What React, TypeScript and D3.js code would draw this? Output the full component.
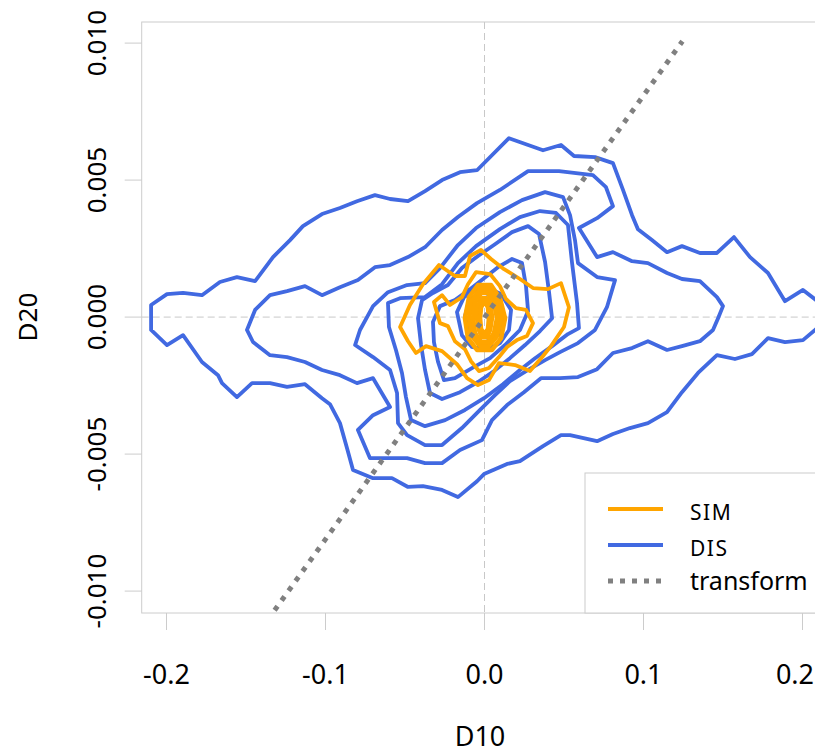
import { useEffect, useRef } from 'react';
import * as d3 from 'd3';

type Pt = [number, number];

const xTicks = [-0.2, -0.1, 0.0, 0.1, 0.2];
const xTickLabels = ['-0.2', '-0.1', '0.0', '0.1', '0.2'];
const yTicks = [-0.01, -0.005, 0.0, 0.005, 0.01];
const yTickLabels = ['-0.010', '-0.005', '0.000', '0.005', '0.010'];

// DIS contours, outermost first
const dis1: Pt[] = [
  [-0.2097, 0.00044], [-0.1997, 0.00084], [-0.1896, 0.00088], [-0.1777, 0.0008], [-0.1664, 0.00128],
  [-0.1557, 0.00146], [-0.1443, 0.00131], [-0.133, 0.00219], [-0.1223, 0.00281], [-0.1142, 0.00332],
  [-0.1022, 0.00376], [-0.0909, 0.00398], [-0.0802, 0.00423], [-0.0689, 0.00445], [-0.0594, 0.00431],
  [-0.0481, 0.00423], [-0.0374, 0.0046], [-0.0267, 0.005], [-0.0154, 0.00529], [-0.0047, 0.00536],
  [0.0154, 0.00653], [0.0368, 0.00609], [0.0481, 0.00628], [0.0563, 0.00588], [0.0695, 0.00584],
  [0.0808, 0.00562], [0.0871, 0.00464], [0.0928, 0.00372], [0.0965, 0.00321], [0.1053, 0.00281],
  [0.1148, 0.00237], [0.1242, 0.00259], [0.1355, 0.00234], [0.1462, 0.00234], [0.1569, 0.00292],
  [0.167, 0.00219], [0.1783, 0.00161], [0.189, 0.00058], [0.2003, 0.00099], [0.211, 0.00051],
  [0.216, -0.00004], [0.2079, -0.00047], [0.2003, -0.00084], [0.189, -0.00091], [0.1783, -0.00077],
  [0.1682, -0.00135], [0.1575, -0.00153], [0.1462, -0.00139], [0.1343, -0.00204], [0.1242, -0.00274],
  [0.1148, -0.00347], [0.1028, -0.00387], [0.0915, -0.00405], [0.0808, -0.00427], [0.0708, -0.00453],
  [0.0538, -0.00431], [0.0481, -0.00431], [0.0368, -0.00471], [0.0223, -0.00526], [0.0142, -0.00536],
  [-0.0003, -0.00573], [-0.0047, -0.00599], [-0.0167, -0.00657], [-0.0267, -0.00631], [-0.0387, -0.00617],
  [-0.0481, -0.0062], [-0.0582, -0.00588], [-0.0701, -0.00588], [-0.0827, -0.00558], [-0.0865, -0.00478],
  [-0.0909, -0.00387], [-0.0972, -0.00318], [-0.1022, -0.00296], [-0.1129, -0.00245], [-0.1242, -0.00255],
  [-0.1349, -0.00241], [-0.1462, -0.00241], [-0.1557, -0.00292], [-0.1651, -0.00241], [-0.1676, -0.00212],
  [-0.1777, -0.00164], [-0.1896, -0.00066], [-0.1997, -0.00102], [-0.2097, -0.00047],
];
const dis2: Pt[] = [
  [-0.1494, -0.00047], [-0.1443, 0.00026], [-0.1349, 0.0008], [-0.1242, 0.00095], [-0.1129, 0.00113],
  [-0.1022, 0.0008], [-0.0909, 0.00109], [-0.0796, 0.00135], [-0.0689, 0.00182], [-0.0594, 0.0019],
  [-0.0481, 0.00219], [-0.0374, 0.00255], [-0.0267, 0.00318], [-0.0167, 0.00365], [-0.0047, 0.00416],
  [0.0097, 0.00464], [0.0274, 0.00533], [0.0469, 0.00533], [0.0682, 0.00518], [0.0764, 0.00474],
  [0.0808, 0.00405], [0.0708, 0.00361], [0.0594, 0.00325], [0.0708, 0.00219], [0.0808, 0.00237],
  [0.0928, 0.00204], [0.1028, 0.00197], [0.1148, 0.00161], [0.1242, 0.00139], [0.1355, 0.00131],
  [0.1462, 0.00073], [0.15, 0.0004], [0.1469, -0.00004], [0.1437, -0.00047], [0.1355, -0.00088],
  [0.1242, -0.00106], [0.1148, -0.0012], [0.1028, -0.00088], [0.0928, -0.00113], [0.0808, -0.00131],
  [0.0708, -0.0019], [0.0588, -0.00219], [0.0475, -0.00223], [0.0355, -0.00223], [0.0248, -0.00274],
  [0.0142, -0.00321], [0.0047, -0.00376], [-0.0016, -0.00449], [-0.0154, -0.00485], [-0.0267, -0.00533],
  [-0.0374, -0.00533], [-0.0487, -0.00515], [-0.072, -0.00515], [-0.0796, -0.00412], [-0.0701, -0.00358],
  [-0.0594, -0.00328], [-0.0701, -0.00223], [-0.0802, -0.00241], [-0.0909, -0.00212], [-0.1022, -0.00193],
  [-0.1129, -0.00164], [-0.1242, -0.00146], [-0.1349, -0.00139], [-0.1456, -0.00091],
];
const dis3: Pt[] = [
  [-0.0814, -0.00102], [-0.0783, -0.00047], [-0.0701, 0.0004], [-0.0607, 0.00091], [-0.0487, 0.00117],
  [-0.0374, 0.00124], [-0.028, 0.00179], [-0.0167, 0.00263], [-0.0053, 0.00325], [0.0097, 0.00383],
  [0.0236, 0.00427], [0.0381, 0.00456], [0.0494, 0.00438], [0.0538, 0.00372], [0.0569, 0.00281],
  [0.0588, 0.00197], [0.0708, 0.00146], [0.0821, 0.00135], [0.077, 0.00036], [0.0695, -0.00047],
  [0.0588, -0.00095], [0.0475, -0.00128], [0.0381, -0.00157], [0.0274, -0.00193], [0.016, -0.00234],
  [0.0066, -0.00285], [-0.0028, -0.00339], [-0.0142, -0.00405], [-0.0267, -0.00467], [-0.0374, -0.00467],
  [-0.0487, -0.00431], [-0.0544, -0.00387], [-0.055, -0.00277], [-0.0594, -0.00193], [-0.0701, -0.00146],
];
const dis4: Pt[] = [
  [-0.0607, 0.00051], [-0.0531, 0.00069], [-0.0374, 0.00073], [-0.0267, 0.0012], [-0.0167, 0.00197],
  [-0.0053, 0.00259], [0.0097, 0.00321], [0.0223, 0.00365], [0.0349, 0.00387], [0.045, 0.0038],
  [0.0525, 0.00336], [0.055, 0.00201], [0.0582, 0.00051], [0.0594, -0.0004], [0.0525, -0.00062],
  [0.0425, -0.00106], [0.0318, -0.0015], [0.0223, -0.00193], [0.0116, -0.00245], [-0.0003, -0.00296],
  [-0.0123, -0.00339], [-0.0248, -0.00376], [-0.0374, -0.00398], [-0.0462, -0.00376], [-0.0494, -0.00292],
  [-0.0519, -0.00204], [-0.0557, -0.0012], [-0.0601, -0.00036],
];
const dis5: Pt[] = [
  [-0.0418, -0.00004], [-0.0393, 0.00062], [-0.0324, 0.00088], [-0.023, 0.00117], [-0.0142, 0.00179],
  [-0.0041, 0.00223], [0.0066, 0.00266], [0.0173, 0.0031], [0.0274, 0.00332], [0.0343, 0.00303],
  [0.0381, 0.00201], [0.0406, 0.00091], [0.0425, -0.00004], [0.0349, -0.00051], [0.0255, -0.00102],
  [0.016, -0.0015], [0.006, -0.00197], [-0.0041, -0.00237], [-0.0154, -0.00274], [-0.0267, -0.00299],
  [-0.0343, -0.00277], [-0.0374, -0.00193], [-0.0399, -0.00102],
];
const dis6: Pt[] = [
  [-0.0324, -0.00018], [-0.028, 0.0004], [-0.0186, 0.00062], [-0.0091, 0.00102], [-0.0003, 0.00142],
  [0.0085, 0.00182], [0.0173, 0.00212], [0.0236, 0.00197], [0.0261, 0.00113], [0.0274, 0.00022],
  [0.0223, -0.00047], [0.0129, -0.00102], [0.0035, -0.0015], [-0.0079, -0.00186], [-0.0186, -0.00223],
  [-0.0255, -0.0023], [-0.0292, -0.00164], [-0.0318, -0.00091],
];
const dis7: Pt[] = [
  [-0.0173, 0.00018], [-0.0129, 0.00073], [-0.006, 0.00099], [0.0035, 0.00102], [0.0104, 0.00084],
  [0.0167, 0.00026], [0.0154, -0.00047], [0.0097, -0.00095], [0.0016, -0.0012], [-0.0079, -0.00109],
  [-0.0142, -0.00066],
];
const dis8: Pt[] = [
  [-0.0123, 0.00004], [-0.0091, 0.00066], [-0.0003, 0.00091], [0.0079, 0.00066], [0.0116, 0.00004],
  [0.0085, -0.00066], [-0.0003, -0.00095], [-0.0091, -0.00066],
];

// SIM contours, outermost first
const sim1: Pt[] = [
  [-0.0531, -0.00036], [-0.0469, 0.00044], [-0.0387, 0.0012], [-0.0286, 0.0019], [-0.0186, 0.0015],
  [-0.0123, 0.0015], [-0.0091, 0.00223], [-0.0022, 0.00245], [0.0041, 0.00212], [0.0123, 0.00175],
  [0.0223, 0.00139], [0.0305, 0.00106], [0.0399, 0.00102], [0.0481, 0.00124], [0.0531, 0.00036],
  [0.05, -0.00036], [0.0418, -0.00106], [0.0368, -0.00142], [0.0286, -0.00197], [0.0192, -0.00175],
  [0.0091, -0.00168], [0.0028, -0.0023], [-0.0041, -0.00248], [-0.011, -0.00223], [-0.0173, -0.00172],
  [-0.0267, -0.00124], [-0.0368, -0.00106], [-0.0431, -0.00131], [-0.0481, -0.00088],
];
const sim2: Pt[] = [
  [-0.0318, 0.00055], [-0.0267, 0.0008], [-0.0217, 0.00044], [-0.0142, 0.00073], [-0.0104, 0.0012],
  [-0.0053, 0.00164], [0.0035, 0.00157], [0.0097, 0.00113], [0.0135, 0.00066], [0.0198, 0.00033],
  [0.0261, 0.00026], [0.0305, -0.00022], [0.0267, -0.00069], [0.0204, -0.00084], [0.0142, -0.00109],
  [0.0091, -0.00146], [0.0028, -0.00186], [-0.0035, -0.00197], [-0.0085, -0.00161], [-0.0123, -0.00117],
  [-0.0186, -0.00088], [-0.023, -0.00033], [-0.028, -0.00022],
];
const sim3: Pt[] = [
  [-0.0123, -0.00004], [-0.0097, 0.00073], [-0.0041, 0.00117], [0.0041, 0.00117], [0.0097, 0.00069],
  [0.0129, -0.00004], [0.0104, -0.00077], [0.0047, -0.0012], [-0.0047, -0.0012], [-0.0104, -0.00077],
];
const sim4: Pt[] = [
  [-0.0097, -0.00004], [-0.0079, 0.00062], [-0.0028, 0.00102], [0.0028, 0.00102], [0.0079, 0.00062],
  [0.0104, -0.00004], [0.0079, -0.00069], [0.0028, -0.00106], [-0.0028, -0.00106], [-0.0079, -0.00069],
];
const sim5: Pt[] = [
  [-0.0072, -0.00004], [-0.006, 0.00051], [-0.0022, 0.00088], [0.0022, 0.00088], [0.006, 0.00051],
  [0.0079, -0.00004], [0.006, -0.00058], [0.0022, -0.00091], [-0.0022, -0.00091], [-0.006, -0.00058],
];
const sim6: Pt[] = [
  [-0.0047, -0.00004], [-0.0041, 0.0004], [-0.0016, 0.00069], [0.0016, 0.00069], [0.0041, 0.0004],
  [0.0047, -0.00004], [0.0035, -0.00047], [0.0016, -0.00073], [-0.0016, -0.00073], [-0.0035, -0.00047],
];
const sim7: Pt[] = [
  [-0.0028, -0.00004], [-0.0022, 0.00036], [0.0, 0.00058], [0.0022, 0.00036], [0.0028, -0.00004],
  [0.0022, -0.00044], [0.0, -0.00062], [-0.0022, -0.00044],
];

const disContours = [dis1, dis2, dis3, dis4, dis5, dis6, dis7, dis8];
const simContours = [sim1, sim2, sim3, sim4, sim5, sim6, sim7];

// fitted transform line (endpoints)
const transformLine: Pt[] = [[-0.132, -0.0107], [0.1245, 0.01007]];

const legendLabels = ['SIM', 'DIS', 'transform'];
const legendColors = ['#FFA500', '#4169E1', '#808080'];

const FONT = "'Noto Sans', sans-serif";
const W = 815;
const H = 753;

export default function App() {
  const svgRef = useRef<SVGSVGElement>(null);

  useEffect(() => {
    if (!svgRef.current) return;
    const svg = d3.select(svgRef.current);
    svg.selectAll('*').remove();

    const left = 141.7;
    const right = 827.3;
    const top = 22;
    const bottom = 613;

    const x = d3.scaleLinear().domain([-0.2156, 0.2156]).range([left, right]);
    const y = d3.scaleLinear().domain([-0.0108, 0.01077]).range([bottom, top]);

    svg.append('defs')
      .append('clipPath')
      .attr('id', 'plot-clip')
      .append('rect')
      .attr('x', left)
      .attr('y', top)
      .attr('width', right - left)
      .attr('height', bottom - top);

    // reference lines at zero
    svg.append('line')
      .attr('x1', x(0)).attr('x2', x(0))
      .attr('y1', top).attr('y2', bottom)
      .attr('stroke', '#c8c8c8').attr('stroke-width', 1)
      .attr('stroke-dasharray', '7,4');
    svg.append('line')
      .attr('x1', left).attr('x2', right)
      .attr('y1', y(0)).attr('y2', y(0))
      .attr('stroke', '#c8c8c8').attr('stroke-width', 1)
      .attr('stroke-dasharray', '7,4');

    const line = d3.line<Pt>()
      .x((d) => x(d[0]))
      .y((d) => y(d[1]))
      .curve(d3.curveLinearClosed);

    const g = svg.append('g').attr('clip-path', 'url(#plot-clip)');

    g.selectAll('path.dis')
      .data(disContours)
      .join('path')
      .attr('class', 'dis')
      .attr('d', (d) => line(d))
      .attr('fill', 'none')
      .attr('stroke', '#4169E1')
      .attr('stroke-width', 3.8)
      .attr('stroke-linejoin', 'round');

    // inner SIM levels are packed tight, so they read as a solid core
    g.selectAll('path.sim')
      .data(simContours)
      .join('path')
      .attr('class', 'sim')
      .attr('d', (d) => line(d))
      .attr('fill', 'none')
      .attr('stroke', '#FFA500')
      .attr('stroke-width', (_d, i) => (i < 2 ? 3.8 : 4.6))
      .attr('stroke-linejoin', 'round');

    g.append('path')
      .attr('d', d3.line<Pt>().x((d) => x(d[0])).y((d) => y(d[1]))(transformLine))
      .attr('fill', 'none')
      .attr('stroke', '#808080')
      .attr('stroke-width', 5)
      .attr('stroke-dasharray', '5,7');

    // frame
    svg.append('rect')
      .attr('x', left).attr('y', top)
      .attr('width', right - left).attr('height', bottom - top)
      .attr('fill', 'none')
      .attr('stroke', '#cccccc')
      .attr('stroke-width', 1);

    // x axis
    svg.selectAll('line.xtick')
      .data(xTicks)
      .join('line')
      .attr('class', 'xtick')
      .attr('x1', (d) => x(d)).attr('x2', (d) => x(d))
      .attr('y1', bottom).attr('y2', bottom + 17)
      .attr('stroke', '#cccccc');
    svg.selectAll<SVGTextElement, number>('text.xlab')
      .data(xTicks)
      .join('text')
      .attr('class', 'xlab')
      .attr('x', (d) => x(d))
      .attr('y', 684)
      .attr('text-anchor', 'middle')
      .attr('font-family', FONT)
      .attr('font-size', 27)
      .attr('fill', '#000')
      .text((_d, i) => xTickLabels[i])
      .each(function (d) {
        // keep the last label inside the picture
        const half = this.getComputedTextLength() / 2;
        if (x(d) + half > W - 1) d3.select(this).attr('x', W - 1 - half);
      });

    // y axis
    svg.selectAll('line.ytick')
      .data(yTicks)
      .join('line')
      .attr('class', 'ytick')
      .attr('x1', left - 17).attr('x2', left)
      .attr('y1', (d) => y(d)).attr('y2', (d) => y(d))
      .attr('stroke', '#cccccc');
    svg.selectAll('text.ylab')
      .data(yTicks)
      .join('text')
      .attr('class', 'ylab')
      .attr('transform', (d) => `translate(106,${y(d)}) rotate(-90)`)
      .attr('text-anchor', 'middle')
      .attr('font-family', FONT)
      .attr('font-size', 26)
      .attr('fill', '#000')
      .text((_d, i) => yTickLabels[i]);

    // axis titles
    svg.append('text')
      .attr('x', 480).attr('y', 746)
      .attr('text-anchor', 'middle')
      .attr('font-family', FONT).attr('font-size', 27)
      .text('D10');
    svg.append('text')
      .attr('transform', `translate(37,${y(0)}) rotate(-90)`)
      .attr('text-anchor', 'middle')
      .attr('font-family', FONT).attr('font-size', 26)
      .text('D20');

    // legend
    const lg = svg.append('g');
    lg.append('rect')
      .attr('x', 585).attr('y', 473)
      .attr('width', 260).attr('height', bottom - 473)
      .attr('fill', '#fff')
      .attr('stroke', '#cccccc');
    legendLabels.forEach((label, i) => {
      const ly = 509 + i * 36;
      lg.append('line')
        .attr('x1', 608).attr('x2', 663)
        .attr('y1', ly).attr('y2', ly)
        .attr('stroke', legendColors[i])
        .attr('stroke-width', i === 2 ? 5 : 4)
        .attr('stroke-dasharray', i === 2 ? '5,7' : null);
      lg.append('text')
        .attr('x', 690).attr('y', ly + (i === 2 ? 9 : 11))
        .attr('font-family', FONT)
        .attr('font-size', i === 2 ? 25 : 21)
        .attr('letter-spacing', i === 2 ? 0 : 1.5)
        .attr('fill', '#000')
        .text(label);
    });
  }, []);

  return (
    <div style={{ position: 'absolute', left: 0, top: 0 }}>
      <svg ref={svgRef} width={W} height={H} style={{ display: 'block' }} />
    </div>
  );
}
